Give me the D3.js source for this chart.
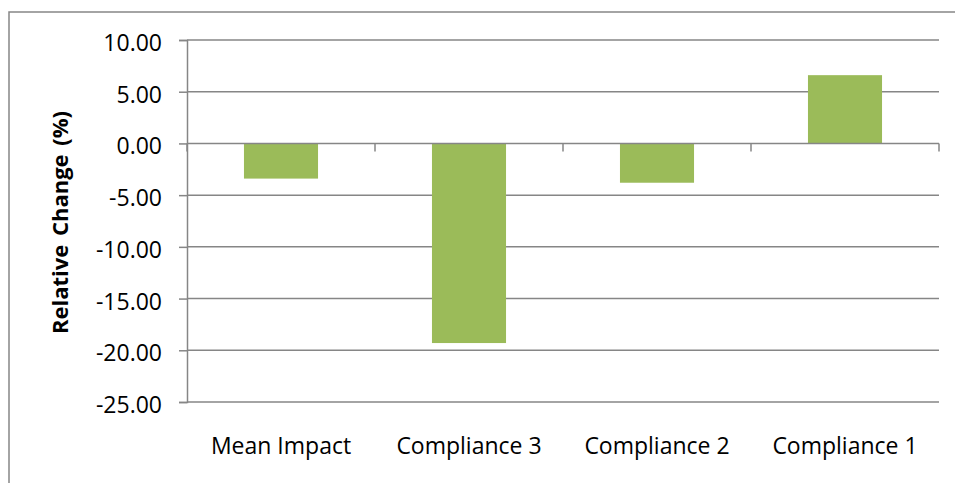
<!DOCTYPE html>
<html>
<head>
<meta charset="utf-8">
<script src="https://cdn.jsdelivr.net/npm/d3@7"></script>
<style>
  body { margin: 0; background: #fff; }
  svg { display: block; }
  text { font-family: "Open Sans", "Noto Sans", sans-serif; fill: #000; }
</style>
</head>
<body>
<div id="chart"></div>
<script>
// chart values
const categories = ["Mean Impact", "Compliance 3", "Compliance 2", "Compliance 1"];
const values = [-3.4, -19.3, -3.8, 6.6];
const yTicks = [10, 5, 0, -5, -10, -15, -20, -25];
const yTitle = "Relative Change (%)";

const width = 955, height = 483;
const plot = {left: 187, right: 939, top: 40, bottom: 402};
const gray = "#868686";
const green = "#9BBB59";

let svg = d3.select("#chart").append("svg")
    .attr("width", width)
    .attr("height", height)

// outer frame, runs off the right and bottom edge
svg.append("rect")
    .attr("x", 9).attr("y", 12)
    .attr("width", 960).attr("height", 480)
    .attr("fill", "none")
    .attr("stroke", gray)
    .attr("stroke-width", 1.5)

let yScale = d3.scaleLinear()
    .domain([-25, 10])
    .range([plot.bottom, plot.top]);

// band edges for the category ticks, inner band for the bars
let xOuter = d3.scaleBand()
    .domain(categories)
    .range([plot.left, plot.right])
    .padding(0);
let xBar = d3.scaleBand()
    .domain(categories)
    .range([plot.left, plot.right])
    .paddingInner(0.606)
    .paddingOuter(0.303);

// gridlines
svg.append("g").selectAll("line")
    .data(yTicks.filter(d => d !== 0))
    .enter().append("line")
    .attr("x1", plot.left).attr("x2", plot.right)
    .attr("y1", d => yScale(d)).attr("y2", d => yScale(d))
    .attr("stroke", gray)
    .attr("stroke-width", 1.5)

// bars
svg.append("g").selectAll("rect")
    .data(values)
    .enter().append("rect")
    .attr("x", (d, i) => xBar(categories[i]))
    .attr("width", xBar.bandwidth())
    .attr("y", d => yScale(Math.max(0, d)))
    .attr("height", d => Math.abs(yScale(d) - yScale(0)))
    .attr("fill", green)

// y axis
let yAxis = d3.axisLeft(yScale)
    .tickValues(yTicks)
    .tickSize(8)
    .tickPadding(17)
    .tickFormat(d => d.toFixed(2));
let yAx = svg.append("g")
    .attr("transform", "translate(" + plot.left + ",0)")
    .call(yAxis);
yAx.select(".domain").attr("stroke", gray).attr("stroke-width", 1.5);
yAx.selectAll(".tick line").attr("stroke", gray).attr("stroke-width", 1.5);
yAx.selectAll(".tick text")
    .attr("dy", null)
    .attr("y", 10.5)
    .style("font-size", "23px")
    .style("font-family", "\"Open Sans\", sans-serif")
    .attr("fill", "#000");

// category axis on the zero line, ticks at band edges
let zeroY = yScale(0);
let xAx = svg.append("g");
xAx.append("line")
    .attr("x1", plot.left).attr("x2", plot.right)
    .attr("y1", zeroY).attr("y2", zeroY)
    .attr("stroke", gray)
    .attr("stroke-width", 1.5)
let edges = categories.map(c => xOuter(c)).concat([plot.right]);
xAx.selectAll("line.edge")
    .data(edges)
    .enter().append("line")
    .classed("edge", true)
    .attr("x1", d => d).attr("x2", d => d)
    .attr("y1", zeroY).attr("y2", zeroY + 8)
    .attr("stroke", gray)
    .attr("stroke-width", 1.5)

// category labels below the plot
svg.append("g").selectAll("text")
    .data(categories)
    .enter().append("text")
    .attr("x", d => xOuter(d) + xOuter.bandwidth() / 2)
    .attr("y", 454)
    .style("text-anchor", "middle")
    .style("font-size", "23px")
    .text(d => d)

// y title
svg.append("text")
    .attr("transform", "translate(68," + 222.5 + ") rotate(-90)")
    .style("text-anchor", "middle")
    .style("font-size", "22px")
    .style("font-weight", "bold")
    .style("word-spacing", "3px")
    .text(yTitle)
</script>
</body>
</html>
